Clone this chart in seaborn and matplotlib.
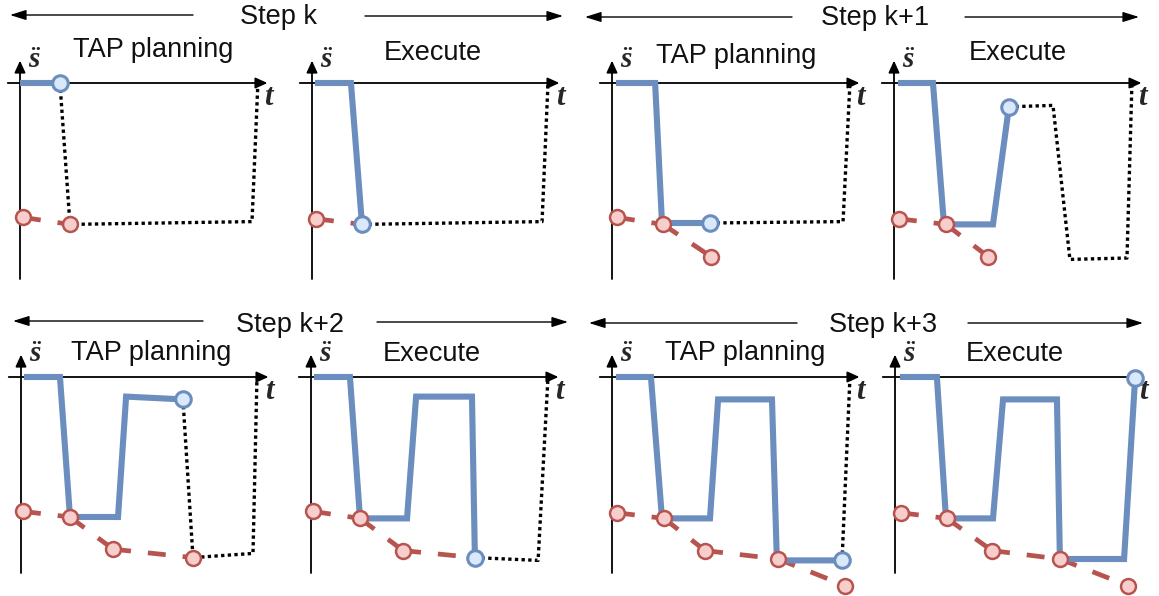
import matplotlib
matplotlib.use("Agg")
import matplotlib.pyplot as plt
import seaborn as sns

# ---------------- data ----------------
step_labels = ["Step k", "Step k+1", "Step k+2", "Step k+3"]
phase_labels = ["TAP planning", "Execute", "TAP planning", "Execute",
                "TAP planning", "Execute", "TAP planning", "Execute"]

# executed / committed profile (blue, solid)
blue_t = [
    [0.0, 1.63],
    [0.12, 1.59, 2.04],
    [0.16, 1.76, 2.04, 4.0],
    [0.16, 1.59, 2.04, 4.04, 4.69],
    [0.12, 1.59, 2.0, 3.96, 4.29, 6.61],
    [0.12, 1.59, 2.0, 3.92, 4.29, 6.57, 6.69],
    [0.16, 1.59, 2.04, 4.0, 4.33, 6.53, 6.73, 9.39],
    [0.2, 1.71, 2.08, 4.0, 4.41, 6.61, 6.73, 9.35, 9.8],
]
blue_s = [
    [0, 0],
    [0, 0, -1.01],
    [0, 0, -1.0, -1.0],
    [0, 0, -1.01, -1.01, -0.17],
    [0, 0, -1.0, -1.0, -0.14, -0.16],
    [0, 0, -1.01, -1.01, -0.14, -0.14, -1.29],
    [0, 0, -1.01, -1.01, -0.16, -0.16, -1.31, -1.31],
    [0, 0, -1.01, -1.01, -0.16, -0.16, -1.30, -1.30, -0.01],
]

# lower bound points (red, dashed)
red_t = [
    [0.12, 2.04],
    [0.16, 2.04],
    [0.2, 2.08, 4.04],
    [0.2, 2.12, 3.84],
    [0.08, 2.0, 3.76, 7.02],
    [0.08, 2.0, 3.76, 6.69],
    [0.2, 2.12, 3.8, 6.78, 9.51],
    [0.24, 2.12, 3.96, 6.73, 9.51],
]
red_s = [
    [-0.96, -1.01],
    [-0.97, -1.01],
    [-0.96, -1.01, -1.24],
    [-0.97, -1.01, -1.24],
    [-0.96, -1.0, -1.23, -1.29],
    [-0.96, -1.01, -1.24, -1.29],
    [-0.97, -1.01, -1.24, -1.30, -1.49],
    [-0.97, -1.01, -1.24, -1.30, -1.49],
]

# remaining planned profile (black, dotted)
plan_t = [
    [1.63, 2.04, 9.47, 9.71],
    [2.04, 9.39, 9.63],
    [4.0, 9.43, 9.71],
    [4.69, 6.49, 7.18, 9.51, 9.71],
    [6.61, 7.02, 9.47, 9.63],
    [6.69, 9.27, 9.67],
    [9.39, 9.71],
    [],
]
plan_s = [
    [0, -1.01, -0.99, 0],
    [-1.01, -0.99, -0.01],
    [-1.0, -0.99, -0.01],
    [-0.17, -0.16, -1.26, -1.25, -0.01],
    [-0.16, -1.29, -1.26, -0.01],
    [-1.29, -1.31, -0.01],
    [-1.31, -0.01],
    [],
]

# ---------------- layout / style ----------------
W, H = 1159, 596
PX_T, PX_S = 24.5, 140.0           # pixels per data unit
XLIM, YLIM = (-0.8, 11.0), (-1.6, 0.6)
origins = [(20, 83), (312, 83), (612, 83), (894, 83),
           (21, 377), (311, 377), (612, 377), (895, 377)]
title_pos = [(5.43, 0.186), (4.94, 0.164), (5.06, 0.143), (5.06, 0.164),
             (5.31, 0.121), (4.94, 0.114), (5.43, 0.121), (4.9, 0.114)]

BLUE, BLUE_F = "#6c8ebf", "#dae8fc"
RED, RED_F = "#b85450", "#f8cecc"

sns.set_theme(style="white")
plt.rcParams["font.family"] = ["Liberation Sans", "DejaVu Sans"]
plt.rcParams["mathtext.fontset"] = "custom"
plt.rcParams["mathtext.it"] = "Liberation Serif:italic:bold"
plt.rcParams["mathtext.rm"] = "Liberation Serif:bold"

fig = plt.figure(figsize=(W / 100, H / 100), dpi=100)
fig.patch.set_facecolor("white")

# header overlay
ov = fig.add_axes([0, 0, 1, 1])
ov.set_xlim(0, W)
ov.set_ylim(H, 0)
ov.axis("off")
headers = [
    (279, 24, (193, 15), (10, 15), (365, 16), (563, 16)),
    (875, 25, (792, 17), (585, 17), (965, 17), (1139, 17)),
    (290, 332, (203, 321), (13, 321), (377, 322), (568, 322)),
    (883, 332, (797, 323), (589, 323), (968, 323), (1143, 323)),
]
for lab, (cx, by, ls, le, rs, re) in zip(step_labels, headers):
    ov.text(cx, by, lab, ha="center", va="baseline", fontsize=19.5, color="#111111")
    for a, b in ((ls, le), (rs, re)):
        ov.annotate("", xy=b, xytext=a,
                    arrowprops=dict(arrowstyle="-|>,head_length=0.7,head_width=0.22",
                                    mutation_scale=14, lw=1.0, color="black",
                                    shrinkA=0, shrinkB=0))

for i in range(8):
    ox, oy = origins[i]
    left = (ox + XLIM[0] * PX_T) / W
    width = (XLIM[1] - XLIM[0]) * PX_T / W
    bottom = (H - (oy - YLIM[0] * PX_S)) / H
    height = (YLIM[1] - YLIM[0]) * PX_S / H
    ax = fig.add_axes([left, bottom, width, height])
    ax.patch.set_alpha(0)

    # coordinate axes with arrows
    arrow_kw = dict(arrowstyle="-|>,head_length=0.55,head_width=0.25",
                    mutation_scale=13, lw=1.3, color="black", shrinkA=0, shrinkB=0)
    ax.annotate("", xy=(10.1, 0), xytext=(-0.5, 0), arrowprops=arrow_kw, zorder=1)
    ax.annotate("", xy=(0, 0.16), xytext=(0, -1.40), arrowprops=arrow_kw, zorder=1)
    ax.text(0.61, 0.165, r"$\ddot{s}$", fontsize=21, ha="center", va="center")
    ax.text(10.2, -0.1, r"$t$", fontsize=22, ha="center", va="center")
    ax.text(title_pos[i][0], title_pos[i][1], phase_labels[i],
            ha="center", va="baseline", fontsize=19.5, color="#111111")

    # remaining plan (dotted)
    if len(plan_t[i]) > 1:
        sns.lineplot(x=plan_t[i], y=plan_s[i], sort=False, estimator=None, ax=ax,
                     color="black", linewidth=2.4, linestyle=(0, (1, 1.0)),
                     zorder=2, clip_on=False)
    # red dashed bound, each segment restarting dash pattern
    for j in range(len(red_t[i]) - 1):
        sns.lineplot(x=red_t[i][j:j + 2], y=red_s[i][j:j + 2], sort=False,
                     estimator=None, ax=ax, color=RED, linewidth=3.4,
                     linestyle=(0, (3.8, 3.6)), zorder=3, clip_on=False)
    # blue solid profile
    sns.lineplot(x=blue_t[i], y=blue_s[i], sort=False, estimator=None, ax=ax,
                 color=BLUE, linewidth=4.4, zorder=4, clip_on=False,
                 solid_joinstyle="miter", solid_capstyle="butt")
    # markers
    sns.scatterplot(x=red_t[i], y=red_s[i], ax=ax, s=115, color=RED_F,
                    edgecolor=RED, linewidth=1.8, zorder=5, clip_on=False)
    sns.scatterplot(x=blue_t[i][-1:], y=blue_s[i][-1:], ax=ax, s=125, color=BLUE_F,
                    edgecolor=BLUE, linewidth=2.2, zorder=6, clip_on=False)

    ax.set_xlim(*XLIM)
    ax.set_ylim(*YLIM)
    ax.axis("off")

fig.savefig("out.png", dpi=100, facecolor="white")
